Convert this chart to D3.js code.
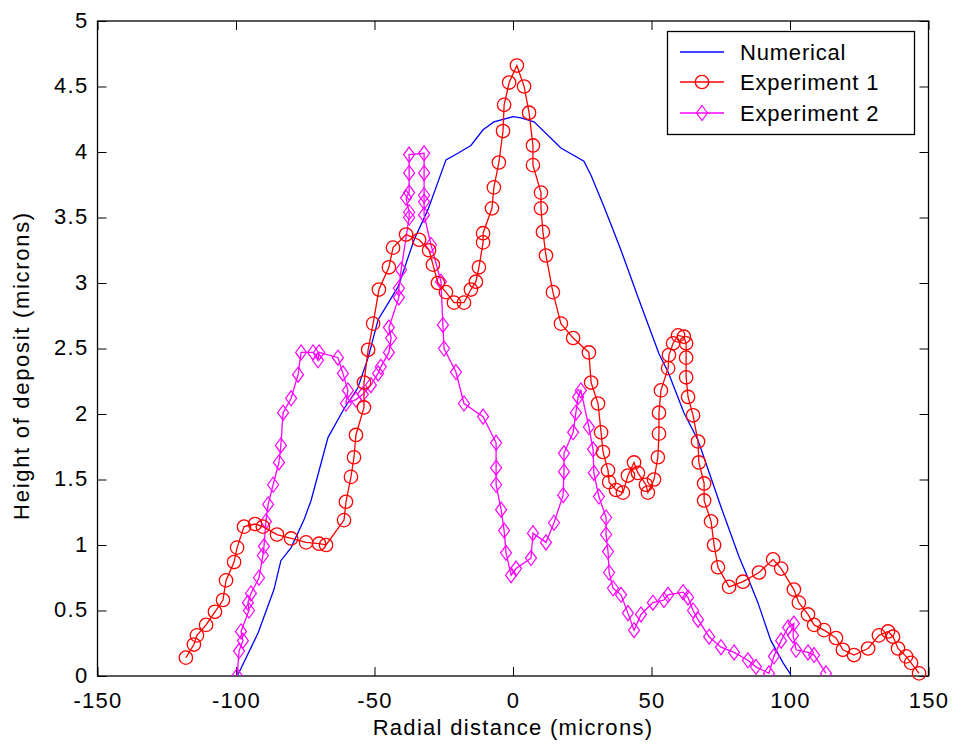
<!DOCTYPE html>
<html>
<head>
<meta charset="utf-8">
<script src="https://cdn.jsdelivr.net/npm/d3@7"></script>
<style>
  html, body { margin: 0; padding: 0; background: #fff; }
  svg { display: block; font-family: "Liberation Sans", Arial, sans-serif; }
</style>
</head>
<body>
<svg id="chart" width="955" height="749"></svg>
<script>
// ---- data ----
const xTicks = [-150, -100, -50, 0, 50, 100, 150];
const yTicks = [0, 0.5, 1, 1.5, 2, 2.5, 3, 3.5, 4, 4.5, 5];
const xLabel = "Radial distance (microns)";
const yLabel = "Height of deposit (microns)";
const seriesNames = ["Numerical", "Experiment 1", "Experiment 2"];

const numericalX = [-99.3, -92, -86.3, -83.8, -80.1, -75.5, -72.9, -66.8, -61, -56, -52.3, -48.7, -41.5, -35.7, -30.7, -24.2, -19.9, -15.2, -10.8, -6.9, 0, 2.9, 7.6, 17.3, 25.6, 28.2, 32.9, 39, 45.5, 52.7, 56, 61.7, 66.8, 75.1, 81.6, 84.8, 88.4, 93.1, 97.5, 100.3];
const numericalY = [0.01, 0.33, 0.66, 0.88, 0.98, 1.19, 1.34, 1.82, 2.04, 2.2, 2.43, 2.72, 2.97, 3.33, 3.56, 3.94, 3.99, 4.05, 4.17, 4.23, 4.27, 4.26, 4.23, 4.03, 3.93, 3.82, 3.58, 3.25, 2.87, 2.46, 2.32, 2.01, 1.80, 1.29, 0.91, 0.75, 0.56, 0.27, 0.10, 0.01];

const exp1X = [-118.1, -115.2, -114.1, -110.8, -107.6, -104.7, -103.6, -100.7, -99.6, -97.1, -93.1, -90.3, -85.2, -80.1, -74.7, -70.0, -67.5, -61.0, -60.3, -58.5, -57.4, -56.7, -53.8, -53.8, -52.3, -50.5, -48.4, -44.8, -43.3, -38.6, -33.9, -30.3, -28.9, -27.1, -24.2, -21.3, -17.7, -15.2, -13.4, -12.3, -10.8, -10.8, -7.6, -6.9, -5.1, -3.6, -3.2, -1.4, 1.4, 4.0, 5.8, 7.2, 7.2, 10.1, 10.1, 10.8, 11.9, 14.4, 17.3, 21.7, 27.4, 28.2, 30.7, 31.8, 32.5, 34.3, 34.7, 37.2, 39.7, 41.5, 43.7, 45.1, 48.0, 48.7, 50.9, 52.3, 52.7, 52.7, 53.4, 56.0, 56.3, 57.8, 59.6, 61.7, 62.5, 62.5, 62.5, 63.2, 65.0, 66.8, 67.1, 69.0, 69.0, 71.5, 72.6, 74.0, 78.0, 83.0, 88.8, 93.9, 96.8, 101.4, 103.2, 106.5, 108.7, 112.3, 116.6, 119.1, 123.1, 128.2, 132.1, 135.4, 137.2, 139.0, 141.9, 143.7, 146.6];
const exp1Y = [0.14, 0.24, 0.31, 0.39, 0.49, 0.58, 0.73, 0.87, 0.98, 1.14, 1.16, 1.14, 1.08, 1.05, 1.02, 1.01, 1.00, 1.19, 1.33, 1.52, 1.67, 1.84, 2.05, 2.24, 2.49, 2.69, 2.95, 3.12, 3.27, 3.37, 3.33, 3.25, 3.14, 3.00, 2.93, 2.85, 2.85, 2.95, 3.01, 3.12, 3.31, 3.38, 3.57, 3.73, 3.92, 4.16, 4.36, 4.53, 4.66, 4.50, 4.30, 4.05, 3.90, 3.69, 3.57, 3.39, 3.21, 2.93, 2.69, 2.58, 2.47, 2.24, 2.08, 1.86, 1.71, 1.57, 1.48, 1.42, 1.40, 1.53, 1.63, 1.55, 1.46, 1.40, 1.50, 1.67, 1.85, 2.01, 2.18, 2.35, 2.45, 2.54, 2.60, 2.59, 2.54, 2.43, 2.28, 2.13, 1.99, 1.79, 1.63, 1.47, 1.34, 1.18, 1.00, 0.83, 0.68, 0.72, 0.79, 0.89, 0.82, 0.66, 0.56, 0.47, 0.39, 0.35, 0.29, 0.20, 0.16, 0.21, 0.31, 0.34, 0.30, 0.21, 0.15, 0.10, 0.02];

const exp2X = [-99.6, -98.9, -97.5, -98.2, -95.3, -95.7, -94.6, -91.7, -90.3, -89.9, -89.2, -88.4, -86.6, -84.5, -83.8, -83.0, -80.1, -77.6, -76.5, -72.2, -70.4, -70.0, -63.2, -61.4, -59.6, -60.3, -56.7, -54.2, -51.3, -48.7, -47.7, -44.8, -44.0, -44.8, -41.2, -41.2, -40.4, -37.5, -37.5, -38.6, -37.5, -37.5, -37.5, -32.1, -32.1, -32.1, -32.1, -32.1, -29.6, -26.0, -25.3, -24.9, -20.6, -17.7, -10.8, -6.1, -6.1, -6.1, -4.3, -3.2, -2.5, -0.7, 1.1, 6.5, 7.2, 11.9, 14.8, 18.1, 18.4, 18.4, 21.7, 22.7, 23.5, 24.5, 27.4, 28.9, 29.2, 31.0, 33.6, 33.6, 34.3, 34.7, 36.1, 39.0, 41.5, 43.7, 46.2, 50.5, 54.5, 56.0, 61.4, 63.2, 65.0, 66.8, 70.8, 75.1, 79.8, 84.8, 87.7, 92.4, 94.2, 96.8, 99.3, 101.4, 101.1, 102.2, 106.5, 108.7, 113.0];
const exp2Y = [0.00, 0.19, 0.27, 0.34, 0.50, 0.56, 0.63, 0.75, 0.92, 0.99, 1.18, 1.31, 1.46, 1.63, 1.76, 2.01, 2.12, 2.30, 2.47, 2.47, 2.41, 2.47, 2.43, 2.31, 2.18, 2.08, 2.11, 2.15, 2.22, 2.31, 2.36, 2.47, 2.58, 2.66, 2.89, 2.96, 3.10, 3.50, 3.54, 3.65, 3.69, 3.84, 3.98, 3.99, 3.84, 3.67, 3.62, 3.52, 3.29, 3.01, 2.68, 2.50, 2.32, 2.08, 1.98, 1.78, 1.59, 1.46, 1.27, 1.11, 0.94, 0.77, 0.82, 0.90, 1.09, 1.02, 1.17, 1.38, 1.56, 1.70, 1.86, 2.01, 2.13, 2.18, 1.90, 1.73, 1.55, 1.37, 1.21, 1.08, 0.95, 0.79, 0.67, 0.62, 0.48, 0.35, 0.47, 0.56, 0.58, 0.62, 0.64, 0.60, 0.50, 0.43, 0.30, 0.22, 0.18, 0.12, 0.07, 0.02, 0.15, 0.27, 0.37, 0.40, 0.31, 0.20, 0.18, 0.16, 0.02];

// ---- layout ----
const svg = d3.select("#chart");
const M = { left: 97.5, right: 928.5, top: 21, bottom: 676 };
const x = d3.scaleLinear().domain([-150, 150]).range([M.left, M.right]);
const y = d3.scaleLinear().domain([0, 5]).range([M.bottom, M.top]);
const FONT = 22;
const LS = 1.3;
const TICK = 9;

const zip = (xs, ys) => xs.map((v, i) => [v, ys[i]]);
const num = zip(numericalX, numericalY);
const e1 = zip(exp1X, exp1Y);
const e2 = zip(exp2X, exp2Y);

const line = d3.line().x(d => x(d[0])).y(d => y(d[1]));

svg.append("defs").append("clipPath").attr("id", "clip")
  .append("rect").attr("x", M.left).attr("y", M.top)
  .attr("width", M.right - M.left).attr("height", M.bottom - M.top);

// axes (inner ticks)
const gx = svg.append("g").attr("transform", `translate(0,${M.bottom})`)
  .call(d3.axisBottom(x).tickValues(xTicks).tickSize(-TICK).tickPadding(16).tickFormat(d3.format("d")));
const gxTop = svg.append("g").attr("transform", `translate(0,${M.top})`)
  .call(d3.axisTop(x).tickValues(xTicks).tickSize(-TICK).tickFormat(""));
const gy = svg.append("g").attr("transform", `translate(${M.left},0)`)
  .call(d3.axisLeft(y).tickValues(yTicks).tickSize(-TICK).tickPadding(9).tickFormat(d => String(d)));
const gyR = svg.append("g").attr("transform", `translate(${M.right},0)`)
  .call(d3.axisRight(y).tickValues(yTicks).tickSize(-TICK).tickFormat(""));

[gx, gxTop, gy, gyR].forEach(g => {
  g.select(".domain").remove();
  g.selectAll(".tick line").attr("stroke", "#000").attr("stroke-width", 1);
  g.selectAll(".tick text").attr("fill", "#000").attr("font-size", FONT)
    .attr("letter-spacing", LS)
    .attr("font-family", "Liberation Sans, Arial, sans-serif");
});
gx.selectAll(".tick text").text(d => d < 0 ? "-" + Math.abs(d) : String(d));
gy.selectAll(".tick text").attr("dy", "0.28em");

// frame
svg.append("rect").attr("x", M.left).attr("y", M.top)
  .attr("width", M.right - M.left).attr("height", M.bottom - M.top)
  .attr("fill", "none").attr("stroke", "#000").attr("stroke-width", 1.3);

const plot = svg.append("g").attr("clip-path", "url(#clip)");

// numerical
plot.append("path").datum(num).attr("d", line)
  .attr("fill", "none").attr("stroke", "#0000ff").attr("stroke-width", 1.3);

// experiment 2 (magenta diamonds)
const MAG = "#ff00ff";
const diamond = (cx, cy, w, h) => `M${cx},${cy - h}L${cx + w},${cy}L${cx},${cy + h}L${cx - w},${cy}Z`;
plot.append("path").datum(e2).attr("d", line)
  .attr("fill", "none").attr("stroke", MAG).attr("stroke-width", 1.3);
plot.append("g").selectAll("path").data(e2).join("path")
  .attr("d", d => diamond(x(d[0]), y(d[1]), 5.5, 7.5))
  .attr("fill", "none").attr("stroke", MAG).attr("stroke-width", 1.2);

// experiment 1 (red circles)
const RED = "#ff0000";
plot.append("path").datum(e1).attr("d", line)
  .attr("fill", "none").attr("stroke", RED).attr("stroke-width", 1.3);
svg.append("g").selectAll("circle").data(e1).join("circle")
  .attr("cx", d => x(d[0])).attr("cy", d => y(d[1])).attr("r", 6.7)
  .attr("fill", "none").attr("stroke", RED).attr("stroke-width", 1.3);

// axis labels
svg.append("text").attr("x", (M.left + M.right) / 2).attr("y", 735)
  .attr("text-anchor", "middle").attr("font-size", FONT).attr("letter-spacing", LS)
  .attr("fill", "#000").text(xLabel);
svg.append("text").attr("transform", `translate(29,${(M.top + M.bottom) / 2 + 17}) rotate(-90)`)
  .attr("text-anchor", "middle").attr("font-size", FONT).attr("letter-spacing", LS + 0.4)
  .attr("fill", "#000").text(yLabel);

// legend
const L = { x: 667.5, y: 31.5, w: 247, h: 103 };
const lg = svg.append("g");
lg.append("rect").attr("x", L.x).attr("y", L.y).attr("width", L.w).attr("height", L.h)
  .attr("fill", "#fff").attr("stroke", "#000").attr("stroke-width", 1.3);
const rowsY = [52, 82, 113];
const colors = ["#0000ff", RED, MAG];
seriesNames.forEach((name, i) => {
  const ry = rowsY[i];
  lg.append("line").attr("x1", 680).attr("x2", 724).attr("y1", ry).attr("y2", ry)
    .attr("stroke", colors[i]).attr("stroke-width", 1.3);
  if (i === 1) lg.append("circle").attr("cx", 702).attr("cy", ry).attr("r", 6.7)
    .attr("fill", "none").attr("stroke", RED).attr("stroke-width", 1.3);
  if (i === 2) lg.append("path").attr("d", diamond(702, ry, 5.5, 7.5))
    .attr("fill", "none").attr("stroke", MAG).attr("stroke-width", 1.2);
  lg.append("text").attr("x", 740).attr("y", ry + 8).attr("font-size", FONT)
    .attr("letter-spacing", 0.8).attr("fill", "#000").text(name);
});
</script>
</body>
</html>
